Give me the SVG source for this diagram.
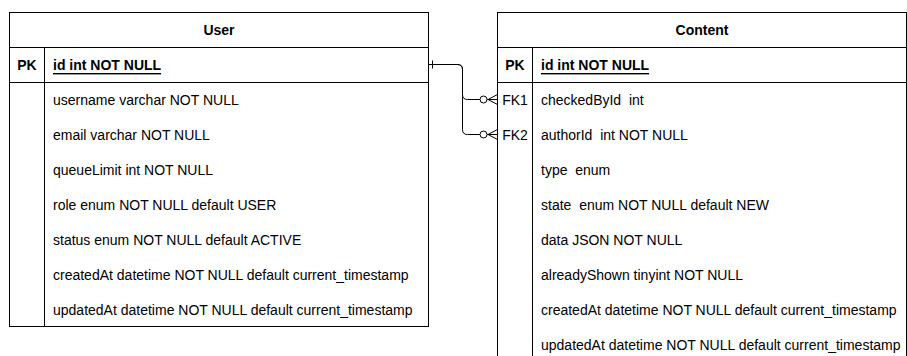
<svg xmlns="http://www.w3.org/2000/svg" width="907" height="356" viewBox="0 0 907 356">
<style>
text{font-family:"Liberation Sans",Arial,sans-serif;font-size:14px;fill:#000;dominant-baseline:central;white-space:pre}
.b{font-weight:bold}
.u{text-decoration:underline}
.box{fill:#fff;stroke:#000;stroke-width:1}
.ln{stroke:#000;stroke-width:1;fill:none}
.conn{stroke:#000;stroke-width:1;fill:none}
</style>
<rect width="907" height="356" fill="#fff"/>
<g id="user">
<rect class="box" x="9.5" y="12.5" width="419" height="314"/>
<line class="ln" x1="9.5" y1="47.5" x2="428.5" y2="47.5"/>
<line class="ln" x1="9.5" y1="82.5" x2="428.5" y2="82.5"/>
<line class="ln" x1="44.5" y1="47.5" x2="44.5" y2="326.5"/>
<text class="b" x="219" y="30" text-anchor="middle">User</text>
<text class="b" x="27" y="65" text-anchor="middle">PK</text>
<text class="b u" x="53" y="65">id int NOT NULL</text>
<text x="53" y="100">username varchar NOT NULL</text>
<text x="53" y="135">email varchar NOT NULL</text>
<text x="53" y="170">queueLimit int NOT NULL</text>
<text x="53" y="205">role enum NOT NULL default USER</text>
<text x="53" y="240">status enum NOT NULL default ACTIVE</text>
<text x="53" y="275">createdAt datetime NOT NULL default current_timestamp</text>
<text x="53" y="310">updatedAt datetime NOT NULL default current_timestamp</text>
</g>
<g id="content">
<rect class="box" x="497.5" y="12.5" width="409" height="350"/>
<line class="ln" x1="497.5" y1="47.5" x2="906.5" y2="47.5"/>
<line class="ln" x1="497.5" y1="82.5" x2="906.5" y2="82.5"/>
<line class="ln" x1="532.5" y1="47.5" x2="532.5" y2="362.5"/>
<text class="b" x="702" y="30" text-anchor="middle">Content</text>
<text class="b" x="515" y="65" text-anchor="middle">PK</text>
<text class="b u" x="541" y="65">id int NOT NULL</text>
<text x="515" y="100" text-anchor="middle">FK1</text>
<text x="541" y="100">checkedById  int</text>
<text x="515" y="135" text-anchor="middle">FK2</text>
<text x="541" y="135">authorId  int NOT NULL</text>
<text x="541" y="170">type  enum</text>
<text x="541" y="205">state  enum NOT NULL default NEW</text>
<text x="541" y="240">data JSON NOT NULL</text>
<text x="541" y="275">alreadyShown tinyint NOT NULL</text>
<text x="541" y="310">createdAt datetime NOT NULL default current_timestamp</text>
<text x="541" y="345">updatedAt datetime NOT NULL default current_timestamp</text>
</g>
<g id="connectors">
<path class="conn" d="M428.5 64.5 H457.5 Q462.5 64.5 462.5 69.5 V94.5 Q462.5 99.5 467.5 99.5 H497.5"/>
<path class="conn" d="M428.5 64.5 H457.5 Q462.5 64.5 462.5 69.5 V129.5 Q462.5 134.5 467.5 134.5 H497.5"/>
<line class="conn" x1="432.5" y1="60.5" x2="432.5" y2="68.5"/>
<circle cx="483.5" cy="99.5" r="3.5" fill="#fff" stroke="#000"/>
<path class="conn" d="M497.5 94.5 L488 99.5 L497.5 104.5"/>
<circle cx="483.5" cy="134.5" r="3.5" fill="#fff" stroke="#000"/>
<path class="conn" d="M497.5 129.5 L488 134.5 L497.5 139.5"/>
</g>
</svg>
